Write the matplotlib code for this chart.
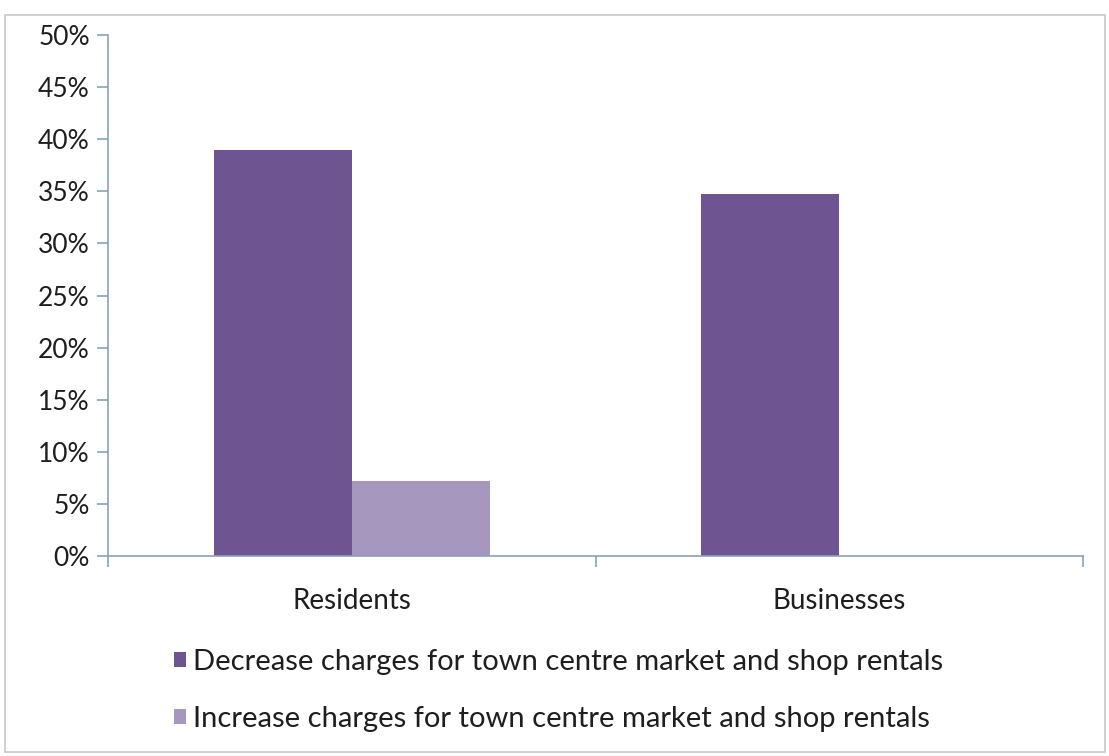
import numpy as np
import matplotlib
matplotlib.use('Agg')
import matplotlib.pyplot as plt
from matplotlib.patches import Rectangle

plt.rcParams['font.family'] = ['Lato', 'DejaVu Sans']

# Data (%)
categories = ['Residents', 'Businesses']
decrease = [39.0, 34.7]
increase = [7.2, 0.0]
series_names = ['Decrease charges for town centre market and shop rentals',
                'Increase charges for town centre market and shop rentals']
y_ticks = [0, 5, 10, 15, 20, 25, 30, 35, 40, 45, 50]

dark_purple = '#6E5490'
light_purple = '#A697BE'
axis_col = '#86A3B8'
text_col = '#1E1E1E'

fig = plt.figure(figsize=(11.09, 7.56), dpi=100)
fig.patch.set_facecolor('white')

# light chart-area border
fig.patches.append(Rectangle((5 / 1109, 1 - 752 / 756), 1100 / 1109, 737 / 756,
                             transform=fig.transFigure, fill=False,
                             edgecolor='#C8C8C8', linewidth=1.2))

ax = fig.add_axes([108 / 1109, 1 - 556 / 756, 975 / 1109, 521 / 756])

x = np.arange(len(categories))
w = 0.283
ax.bar(x - w / 2, decrease, w, color=dark_purple, label=series_names[0])
ax.bar(x + w / 2, increase, w, color=light_purple, label=series_names[1])

ax.set_xlim(-0.5, len(categories) - 0.5)
ax.set_ylim(0, 50)
ax.set_yticks(y_ticks)
ax.set_yticklabels([f'{v}%' for v in y_ticks])

ax.set_xticks(x)
ax.set_xticklabels(categories)
ax.set_xticks(np.arange(len(categories) + 1) - 0.5, minor=True)
ax.tick_params(axis='x', which='major', length=0, pad=23, labelsize=20, labelcolor=text_col)
ax.tick_params(axis='x', which='minor', length=8, width=1.2, color=axis_col, direction='out')
ax.tick_params(axis='y', length=8, width=1.2, color=axis_col, pad=5, labelsize=19, labelcolor=text_col)

for side in ['top', 'right']:
    ax.spines[side].set_visible(False)
for side in ['left', 'bottom']:
    ax.spines[side].set_color(axis_col)
    ax.spines[side].set_linewidth(1.2)

fig.legend(loc='upper left', bbox_to_anchor=(174 / 1109, 1 - 649 / 756),
           frameon=False, fontsize=21, handlelength=0.4, handleheight=0.4,
           handletextpad=0.25, labelspacing=1.07, labelcolor=text_col,
           borderaxespad=0, borderpad=0)

fig.savefig('out.png', dpi=100, facecolor='white')
